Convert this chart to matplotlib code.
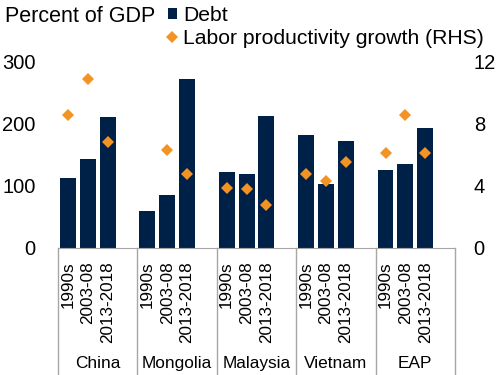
import matplotlib.pyplot as plt
import matplotlib.transforms as mtransforms
from matplotlib.lines import Line2D
from matplotlib.patches import Patch

plt.rcParams['font.family'] = ['Liberation Sans', 'DejaVu Sans']

countries = ['China', 'Mongolia', 'Malaysia', 'Vietnam', 'EAP']
periods = ['1990s', '2003-08', '2013-2018']
debt = [113, 144, 211,
        59, 85, 273,
        123, 120, 213,
        183, 104, 172,
        125, 136, 193]
productivity = [8.6, 10.9, 6.85,
                None, 6.3, 4.8,
                3.9, 3.8, 2.8,
                4.8, 4.35, 5.55,
                6.1, 8.6, 6.1]

navy = '#002147'
orange = '#F39324'
grey = '#A6A6A6'

# 3 bars per group plus an empty slot as gap
xpos = [g * 4 + i for g in range(len(countries)) for i in range(len(periods))]
# Mongolia's first diamond is missing in the chart
px = [x for x, v in zip(xpos, productivity) if v is not None]
pv = [v for v in productivity if v is not None]

fig = plt.figure(figsize=(5, 3.75), dpi=100)
ax = fig.add_axes([0.116, 0.3387, 0.794, 0.496])
ax2 = ax.twinx()

ax.bar(xpos, debt, width=0.8, color=navy, zorder=2)
ax2.plot(px, pv, linestyle='none', marker='D', ms=6, color=orange,
         markeredgewidth=0)

ax.set_xlim(-0.5, 19.5)
ax.set_ylim(0, 300)
ax.set_yticks([0, 100, 200, 300])
ax2.set_ylim(0, 12)
ax2.set_yticks([0, 4, 8, 12])

ax.set_xticks(xpos)
ax.set_xticklabels(periods * len(countries), rotation=90, fontsize=12.3)
ax.tick_params(axis='x', length=0, pad=9.5)
ax.tick_params(axis='y', length=0, pad=16, labelsize=14.5)
ax2.tick_params(axis='y', length=0, pad=13.5, labelsize=14.5)

for a in (ax, ax2):
    for s in a.spines.values():
        s.set_visible(False)
ax.spines['bottom'].set_visible(True)
ax.spines['bottom'].set_color(grey)

# category boxes below the axis
trans = mtransforms.blended_transform_factory(ax.transData, ax.transAxes)
bottom = -0.69
for g in range(len(countries) + 1):
    x = g * 4 - 0.5
    ax.add_line(Line2D([x, x], [0, bottom], transform=trans, color=grey,
                       lw=1, clip_on=False))
for g, name in enumerate(countries):
    ax.text(g * 4 + 1.5, -0.62, name, transform=trans, ha='center',
            va='center', fontsize=12.4)

fig.text(0.01, 0.955, 'Percent of GDP', fontsize=15.5, va='center')

handles = [Patch(facecolor=navy),
           Line2D([], [], linestyle='none', marker='D', ms=6, color=orange,
                  markeredgewidth=0)]
fig.legend(handles, ['Debt', 'Labor productivity growth (RHS)'],
           loc='upper left', bbox_to_anchor=(0.336, 0.985), frameon=False,
           fontsize=15.2, handlelength=0.42, handleheight=0.42,
           handletextpad=0.3, labelspacing=0.2, borderpad=0,
           borderaxespad=0)

plt.savefig('out.png', dpi=100)
